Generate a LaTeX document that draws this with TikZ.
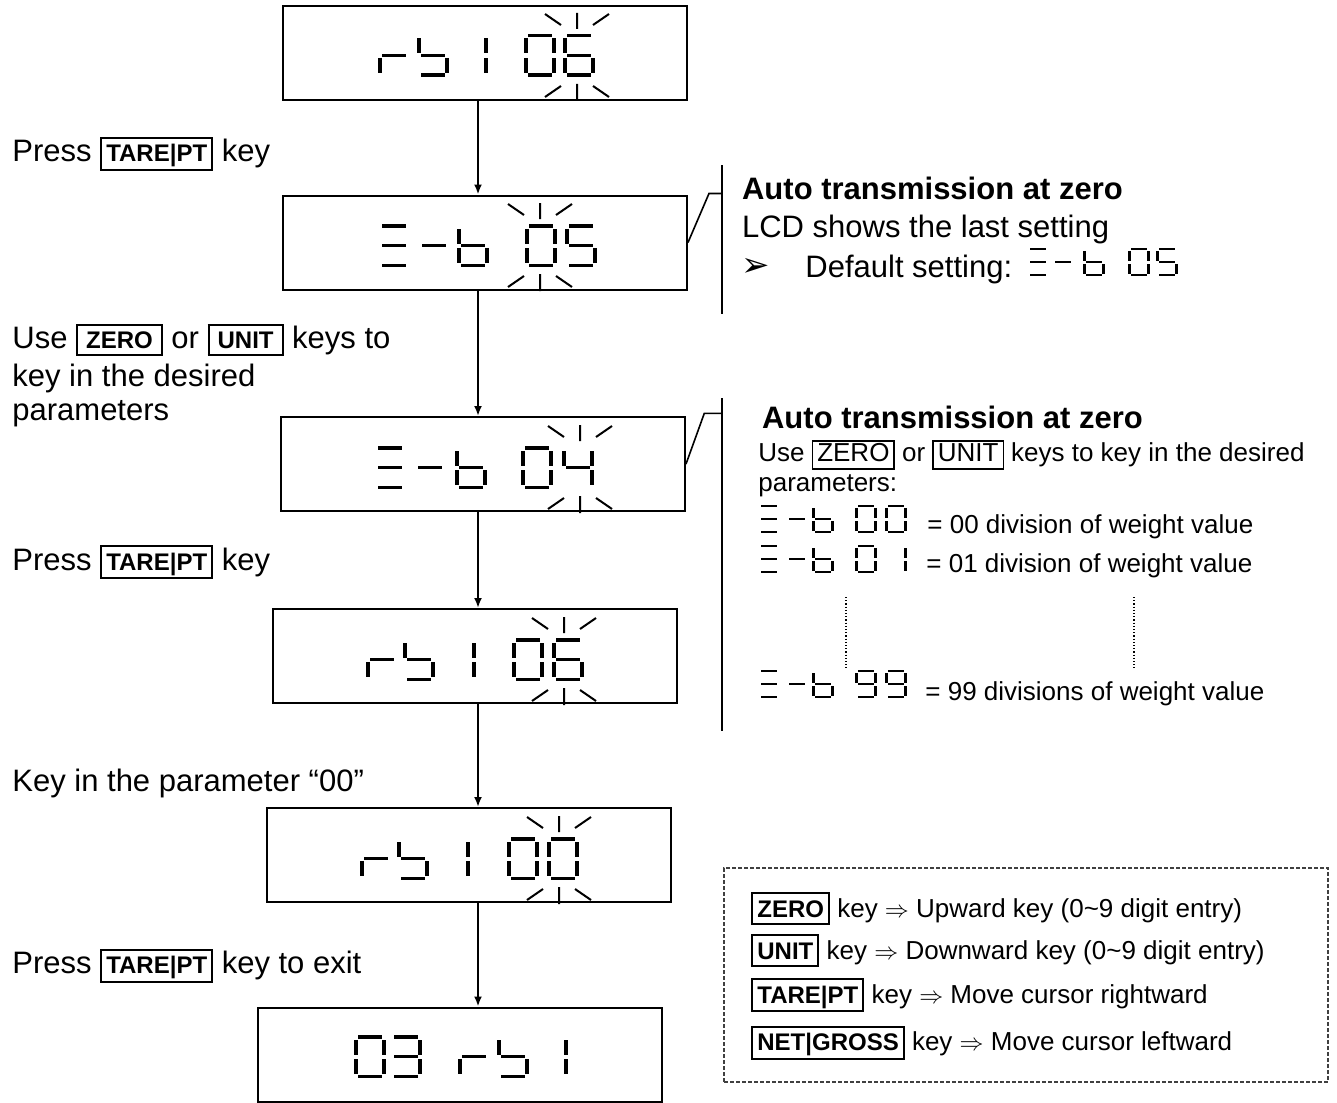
\documentclass[tikz,border=0pt]{standalone}
\usepackage{fontspec}
\setmainfont{Liberation Sans}
\newfontfamily\dingfont{DejaVu Sans}
\usetikzlibrary{arrows.meta, positioning, calc}
\setlength{\fboxsep}{1pt}
\setlength{\fboxrule}{1pt}
% key caps as printed on the keypad
\newcommand{\keycap}[2][1pt]{{\bfseries\fontsize{12}{14}\selectfont
  \fbox{\kern#1\rule[-1.8pt]{0pt}{12.2pt}#2\kern#1}}}
\newcommand{\keyplain}[1]{{\setlength{\fboxrule}{0.7pt}%
  \fbox{\kern1pt\rule[-2.3pt]{0pt}{10pt}#1\kern1pt}}}
% seven segment cells, origin top left, 32 x 43
\newcommand{\lcdsega}{\fill (4,0) rectangle (28,3.5);}
\newcommand{\lcdsegb}{\fill (28,4.5) rectangle (32,19.5);}
\newcommand{\lcdsegc}{\fill (28,24) rectangle (32,39);}
\newcommand{\lcdsegd}{\fill (4,39.5) rectangle (28,43);}
\newcommand{\lcdsege}{\fill (0,24) rectangle (4,39);}
\newcommand{\lcdsegf}{\fill (0,4.5) rectangle (4,19.5);}
\newcommand{\lcdsegg}{\fill (4,19.8) rectangle (28,23.2);}
\newcommand{\lcdchar}[4][]{%
  \begin{scope}[shift={(#2,#3)},#1]
    \foreach \s in {#4}{\csname lcdseg\s\endcsname}
  \end{scope}}
\newcommand{\blink}[2]{%
  \draw[blinkmark] (#1,#2-21) -- (#1,#2-5)
    (#1-32,#2-20) -- (#1-16,#2-9) (#1+16,#2-9) -- (#1+32,#2-20)
    (#1,#2+50) -- (#1,#2+67)
    (#1-32,#2+63) -- (#1-16,#2+52) (#1+16,#2+52) -- (#1+32,#2+63);}
\tikzset{
  lcdbox/.style={draw, line width=1pt, minimum width=202pt,
                 minimum height=47pt, inner sep=0pt},
  flow/.style={-{Latex[length=5pt,width=4pt]}, line width=1pt},
  brace/.style={line width=0.8pt},
  blinkmark/.style={line width=1pt},
  lcdsmall/.style={xscale=0.69, yscale=0.66},
  txt/.style={anchor=base west, inner sep=0pt, font=\fontsize{15.5}{18}\selectfont},
  txtsmall/.style={anchor=base west, inner sep=0pt, font=\fontsize{13}{15}\selectfont},
  head/.style={txt, font=\bfseries\fontsize{15.5}{18}\selectfont},
  legendframe/.style={draw=black!75, line width=1pt, dash pattern=on 2pt off 1pt,
                      minimum width=302pt, minimum height=107pt},
}
\begin{document}
\begin{tikzpicture}[x=0.5pt, y=-0.5pt]
  \useasboundingbox (0,0) rectangle (1337,1102);

  % LCD windows
  \node[lcdbox] (b1) at (485,53) {};
  \node[lcdbox] (b2) at (485,242.5) {};
  \node[lcdbox] (b3) at (483,464) {};
  \node[lcdbox] (b4) at (475,656) {};
  \node[lcdbox] (b5) at (468.5,855) {};
  \node[lcdbox] (b6) at (460,1054.5) {};

  \coordinate (axis) at (478,0);
  \foreach \a/\b in {b1/b2, b2/b3, b3/b4, b4/b5, b5/b6}
    \draw[flow] (\a.south -| axis) -- (\b.north -| axis);

  % rb1 06
  \lcdchar{378}{34}{e,g}
  \lcdchar{417}{34}{f,g,c,d}
  \lcdchar{456}{34}{b,c}
  \lcdchar{524}{34}{a,b,c,d,e,f}
  \lcdchar{563}{34}{a,f,g,e,c,d}
  \blink{577}{34}
  % E-b 05
  \lcdchar{378}{224}{a,g,d}
  \lcdchar{418}{224}{g}
  \lcdchar{457}{224}{f,e,g,c,d}
  \lcdchar{525}{224}{a,b,c,d,e,f}
  \lcdchar{565}{224}{a,f,g,c,d}
  \blink{540}{224}
  % E-b 04
  \lcdchar{374}{446}{a,g,d}
  \lcdchar{414}{446}{g}
  \lcdchar{455}{446}{f,e,g,c,d}
  \lcdchar{521}{446}{a,b,c,d,e,f}
  \lcdchar{562}{446}{f,g,b,c}
  \blink{580}{446}
  % rb1 06
  \lcdchar{366}{638}{e,g}
  \lcdchar{403}{638}{f,g,c,d}
  \lcdchar{444}{638}{b,c}
  \lcdchar{512}{638}{a,b,c,d,e,f}
  \lcdchar{552}{638}{a,f,g,e,c,d}
  \blink{564}{638}
  % rb1 00
  \lcdchar{360}{837}{e,g}
  \lcdchar{397}{837}{f,g,c,d}
  \lcdchar{438}{837}{b,c}
  \lcdchar{507}{837}{a,b,c,d,e,f}
  \lcdchar{547}{837}{a,b,c,d,e,f}
  \blink{559}{837}
  % 03 rb1
  \lcdchar{354}{1035}{a,b,c,d,e,f}
  \lcdchar{390}{1035}{a,b,g,c,d}
  \lcdchar{458}{1035}{e,g}
  \lcdchar{497}{1035}{f,g,c,d}
  \lcdchar{536}{1035}{b,c}

  % steps on the left
  \node[txt] (s1) at (12,161.7) {Press \keycap{TARE|PT} key};
  \node[txt] (s2) at (12,348.3) {Use \keycap[3pt]{ZERO} or \keycap[3pt]{UNIT} keys to};
  \node[txt] (s2b) at (12,386.7) {key in the desired};
  \node[txt] (s2c) at (12,420) {parameters};
  \node[txt] (s3) at (12,570) {Press \keycap{TARE|PT} key};
  \node[txt] (s4) at (12,791.7) {Key in the parameter “00”};
  \node[txt] (s5) at (12,973.3) {Press \keycap{TARE|PT} key to exit};

  % first note
  \coordinate (k1) at (721.7,193.5);
  \coordinate (k1top) at (721.7,165);
  \coordinate (k1bot) at (721.7,314);
  \draw[brace] (b2.east) -- ++(21,-49) -- (k1);
  \draw[brace] (k1top) -- (k1bot);
  \node[head] (n1) at (741.7,199.3) {Auto transmission at zero};
  \node[txt] (n1b) at (741.7,237.3) {LCD shows the last setting};
  \node[txt, font=\dingfont\fontsize{17}{19}\selectfont] (bul) at (741,276) {➢};
  \node[txt] (n1c) at (805,277) {Default setting:};
  \lcdchar[lcdsmall]{1027}{248}{a,g,d}
  \lcdchar[lcdsmall]{1052}{248}{g}
  \lcdchar[lcdsmall]{1083}{248}{f,e,g,c,d}
  \lcdchar[lcdsmall]{1128}{248}{a,b,c,d,e,f}
  \lcdchar[lcdsmall]{1156}{248}{a,f,g,c,d}

  % second note
  \coordinate (k2) at (721.7,413.3);
  \coordinate (k2top) at (721.7,398);
  \coordinate (k2bot) at (721.7,731);
  \draw[brace] (b3.east) -- ++(18.3,-50.7) -- (k2);
  \draw[brace] (k2top) -- (k2bot);
  \node[head] (n2) at (761.7,428.7) {Auto transmission at zero};
  \node[txtsmall] (n2b) at (758,461.7)
    {Use \keyplain{ZERO} or \keyplain{UNIT} keys to key in the desired};
  \node[txtsmall] (n2c) at (758,491.7) {parameters:};
  \foreach \t in {505,545,670} {
    \lcdchar[lcdsmall]{758}{\t}{a,g,d}
    \lcdchar[lcdsmall]{786}{\t}{g}
    \lcdchar[lcdsmall]{812}{\t}{f,e,g,c,d}
  }
  \lcdchar[lcdsmall]{855}{505}{a,b,c,d,e,f}
  \lcdchar[lcdsmall]{885}{505}{a,b,c,d,e,f}
  \lcdchar[lcdsmall]{855}{545}{a,b,c,d,e,f}
  \lcdchar[lcdsmall]{885}{545}{b,c}
  \lcdchar[lcdsmall]{855}{670}{a,b,f,g,c,d}
  \lcdchar[lcdsmall]{885}{670}{a,b,f,g,c,d}
  \node[txtsmall] (r00) at (927,533.3) {= 00 division of weight value};
  \node[txtsmall] (r01) at (926,572.7) {= 01 division of weight value};
  \node[txtsmall] (r99) at (925,700) {= 99 divisions of weight value};
  \draw[densely dotted, line width=0.6pt] (846,597) -- (846,668);
  \draw[densely dotted, line width=0.6pt] (1134,597) -- (1134,668);

  % key legend
  \node[legendframe] (legend) at (1026,975) {};
  \node[txtsmall] (l1) at (751,917)
    {\keycap{ZERO} key $\Rightarrow$ Upward key (0\textasciitilde 9 digit entry)};
  \node[txtsmall] (l2) at (751,959)
    {\keycap{UNIT} key $\Rightarrow$ Downward key (0\textasciitilde 9 digit entry)};
  \node[txtsmall] (l3) at (751,1003)
    {\keycap{TARE|PT} key $\Rightarrow$ Move cursor rightward};
  \node[txtsmall] (l4) at (751,1050.7)
    {\keycap{NET|GROSS} key $\Rightarrow$ Move cursor leftward};
\end{tikzpicture}
\end{document}
